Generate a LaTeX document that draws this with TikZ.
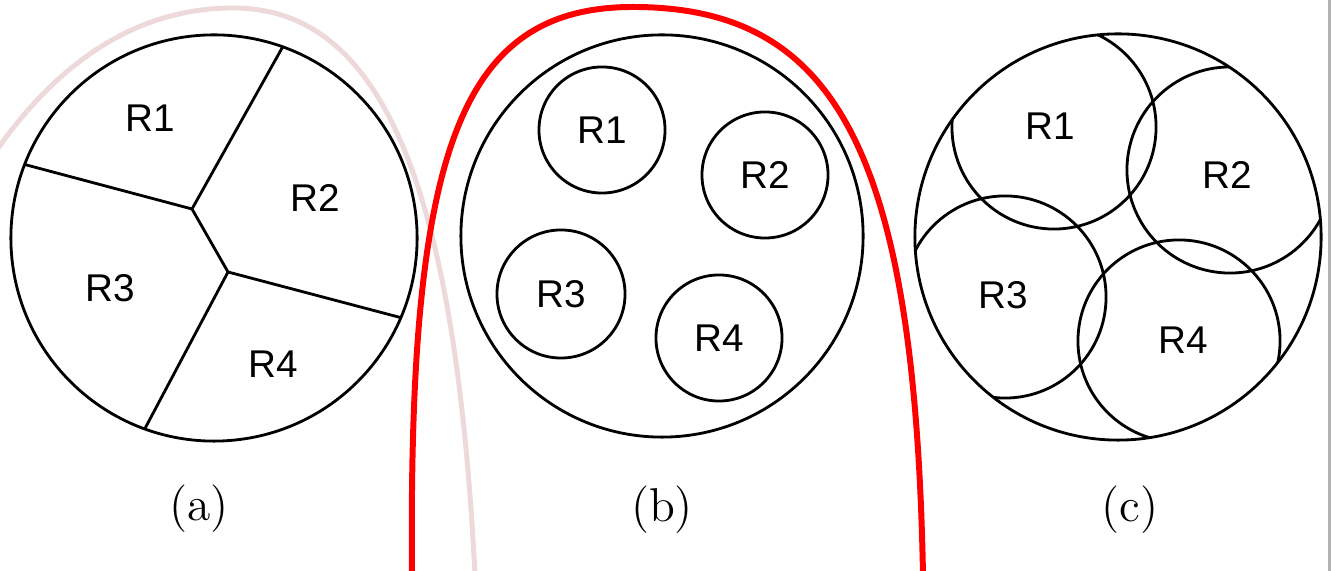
\documentclass[tikz,border=0pt]{standalone}
\usepackage{fontspec}
\newfontfamily\rfont{Liberation Sans}
\definecolor{pinkline}{HTML}{EDD9D9}
\definecolor{redline}{HTML}{FF0000}
\begin{document}
\begin{tikzpicture}[x=0.01cm,y=-0.01cm,
  ink/.style={line width=0.8pt,black},
  rlab/.style={font=\rfont\fontsize{11}{13}\selectfont,inner sep=0pt},
  capt/.style={font=\fontsize{13.5}{16}\selectfont,inner sep=0pt},
  subc/.style={circle,draw,line width=0.8pt,inner sep=0pt,minimum size=1.26cm,font=\rfont\fontsize{11}{13}\selectfont}]
\useasboundingbox (0,0) rectangle (1331,571);
\fill[white] (0,0) rectangle (1331,571);
% right border
\draw[gray!60,line width=0.6pt] (1329.5,0) -- (1329.5,571);
% pink curve
\coordinate (p0) at (-10,160);
\coordinate (ptop) at (233,8);
\coordinate (pend) at (475,575);
\draw[pinkline,line width=1.4pt] (p0) .. controls (50,70) and (130,8) .. (ptop)
  .. controls (380,8) and (455,180) .. (pend);
% ---------- panel (a)
\coordinate (ca) at (214,238);
\coordinate (j1) at (192,209);
\coordinate (j2) at (228,272);
\coordinate (et) at (286,41);
\coordinate (el) at (19,163);
\coordinate (er) at (406,319);
\coordinate (eb) at (141,436);
\draw[ink] (ca) circle[radius=2.03cm];
\begin{scope}
  \clip (ca) circle[radius=2.03cm];
  \draw[ink] (et) -- (j1) -- (el);
  \draw[ink] (j1) -- (j2);
  \draw[ink] (er) -- (j2) -- (eb);
\end{scope}
\node[rlab] (a1) at (150,118) {R1};
\node[rlab] (a2) at (315,198) {R2};
\node[rlab] (a3) at (110,288) {R3};
\node[rlab] (a4) at (273,364) {R4};
\node[capt] (capa) at (199,509) {(a)};
% ---------- panel (b)
\coordinate (cb) at (662,236);
\draw[ink] (cb) circle[radius=2.01cm];
\node[subc] (b1) at (602,130) {R1};
\node[subc] (b2) at (765,175) {R2};
\node[subc,minimum size=1.28cm] (b3) at (561,294) {R3};
\node[subc] (b4) at (719,338) {R4};
\node[capt] (capb) at (662,510) {(b)};
% ---------- panel (c)
\coordinate (cc) at (1118,237);
\draw[ink] (cc) circle[radius=2.03cm];
\begin{scope}
  \clip (cc) circle[radius=2.03cm];
  \draw[ink] (1054,127) circle[radius=1.02cm];
  \draw[ink] (1230,170) circle[radius=1.03cm];
  \draw[ink] (1005,297) circle[radius=1.01cm];
  \draw[ink] (1179,341) circle[radius=1.01cm];
\end{scope}
\node[rlab] (c1) at (1050,126) {R1};
\node[rlab] (c2) at (1227,175) {R2};
\node[rlab] (c3) at (1003,295) {R3};
\node[rlab] (c4) at (1183,340) {R4};
\node[capt] (capc) at (1130,510) {(c)};
% red curve
\coordinate (r0) at (412,575);
\coordinate (rtop) at (633,7);
\coordinate (rend) at (923,575);
\draw[redline,line width=1.7pt] (r0) .. controls (408,150) and (460,7) .. (rtop)
  .. controls (835,7) and (915,150) .. (rend);
\end{tikzpicture}
\end{document}
